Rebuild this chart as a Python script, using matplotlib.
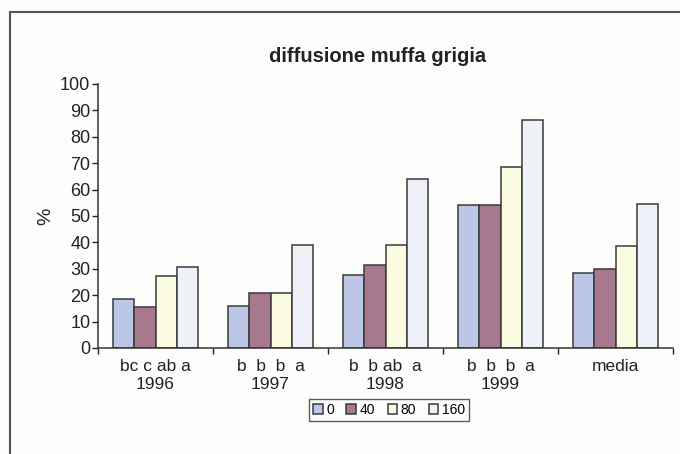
import numpy as np
import matplotlib.pyplot as plt
from matplotlib.lines import Line2D

# categorie e lettere di significatività
categorie = ['bc c ab a\n1996', 'b  b  b  a\n1997', 'b  b ab  a\n1998', 'b  b  b  a\n1999', 'media']
dosi = ['0', '40', '80', '160']

# valori (%)
val_0 = [18.4, 16, 27.5, 54.2, 28.5]
val_40 = [15.5, 20.8, 31.4, 54.2, 30]
val_80 = [27.2, 20.8, 39, 68.7, 38.7]
val_160 = [30.8, 39, 64, 86.2, 54.5]

colori = ['#bcc6e6', '#a8788e', '#fbfbe2', '#eef1f8']

plt.rcParams['font.family'] = ['Liberation Sans', 'DejaVu Sans']

fig = plt.figure(figsize=(6.8, 4.54), dpi=100)
fig.patch.set_facecolor('#fdfdfc')
ax = fig.add_axes([98 / 680, 1 - 348 / 454, 575 / 680, 264 / 454])
ax.set_facecolor('none')

x = np.arange(len(categorie))
w = 0.185
serie = [val_0, val_40, val_80, val_160]
for i, (vals, col) in enumerate(zip(serie, colori)):
    ax.bar(x + (i - 1.5) * w, vals, width=w, color=col, edgecolor='#3a3a3a',
           linewidth=1.1, label=dosi[i])

ax.set_xlim(-0.5, len(categorie) - 0.5)
ax.set_ylim(0, 100)
ax.set_yticks(range(0, 101, 10))
ax.tick_params(axis='y', labelsize=13, length=4, width=1, colors='#222', pad=1.5)

# tacche tra le categorie, etichette al centro
ax.set_xticks(x)
ax.set_xticklabels(categorie, fontsize=12.5, color='#222', linespacing=1.2)
ax.tick_params(axis='x', length=0, pad=8)
ax.set_xticks(np.arange(-0.5, len(categorie)), minor=True)
ax.tick_params(axis='x', which='minor', length=4, width=1, color='#222')

for s in ['top', 'right']:
    ax.spines[s].set_visible(False)
for s in ['left', 'bottom']:
    ax.spines[s].set_color('#333')
    ax.spines[s].set_linewidth(1.1)

ax.set_ylabel('%', fontsize=14, color='#222', labelpad=4)
fig.text(378 / 680, 1 - 57 / 454, 'diffusione muffa grigia', ha='center', va='center',
         fontsize=14.5, fontweight='bold', color='#222')

leg = fig.legend(loc='center', bbox_to_anchor=(389 / 680, 1 - 410 / 454), ncol=4,
                 fontsize=10, frameon=True, fancybox=False, handlelength=0.7,
                 handleheight=0.7, handletextpad=0.25, columnspacing=0.9,
                 borderpad=0.3, borderaxespad=0)
leg.get_frame().set_edgecolor('#333')
leg.get_frame().set_linewidth(1)

# cornice dell'area del grafico
fig.add_artist(Line2D([10 / 680, 10 / 680], [0, 1 - 12 / 454], color='#555', lw=1.5))
fig.add_artist(Line2D([10 / 680, 1], [1 - 12 / 454, 1 - 12 / 454], color='#555', lw=1.5))

fig.savefig('out.png', dpi=100, facecolor=fig.get_facecolor())
